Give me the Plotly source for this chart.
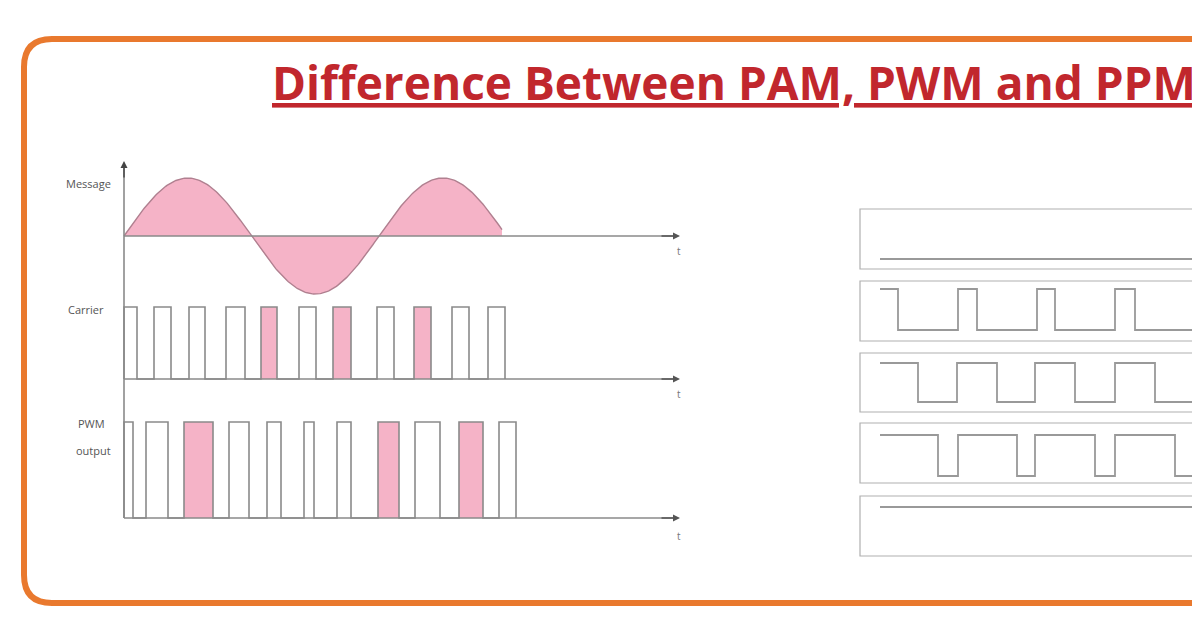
import numpy as np
import plotly.graph_objects as go

TITLE = "Difference Between PAM, PWM and PPM"
# left panel (schematic time units = pixels of drawing)
carrier_pulses = [(124,137),(154,171),(189,205),(226,245),(261,277),(299,316),(333,351),(377,394),(414,431),(452,469),(488,505)]
carrier_pink = [4, 6, 8]
pwm_pulses = [(124,133),(146,168),(184,213),(229,249),(267,281),(304,314),(337,351),(378,399),(415,440),(459,483),(499,516)]
pwm_pink = [2, 7, 9]
msg_start, msg_end, msg_period, msg_amp = 124, 502, 255, 58
# right panel (PPM-style square waves): high segments
box_rows = [(210,270),(282,342),(354,413),(424,484),(497,557)]
flat_levels = {0: 260, 4: 508}
wave_levels = {1: (290,331), 2: (364,403), 3: (436,477)}
wave_highs = {
    1: [(880,898),(958,977),(1037,1055),(1115,1135),(1193,1230)],
    2: [(880,918),(957,997),(1035,1075),(1115,1155),(1193,1230)],
    3: [(880,938),(958,1017),(1035,1095),(1115,1175),(1193,1230)],
}

GRAY = "#8a8a8a"; PINK = "#F5B3C7"
fig = go.Figure()

def line(x, y, w=1.6, c=GRAY):
    fig.add_trace(go.Scatter(x=x, y=y, mode="lines", line=dict(color=c, width=w), hoverinfo="skip"))

def pulses(pl, pink, top, base):
    for i, (a, b) in enumerate(pl):
        if i in pink:
            fig.add_trace(go.Scatter(x=[a,a,b,b,a], y=[base,top,top,base,base], fill="toself",
                                     fillcolor=PINK, mode="none", hoverinfo="skip"))
    xs, ys = [], []
    for a, b in pl:
        xs += [a, a, b, b]; ys += [base, top, top, base]
    line(xs, ys)

# message
t = np.linspace(msg_start, msg_end, 300)
s = 237 - msg_amp * np.sin(2*np.pi*(t - msg_start)/msg_period)
fig.add_trace(go.Scatter(x=np.r_[t, t[::-1]], y=np.r_[s, np.full_like(t, 237)], fill="toself",
                         fillcolor=PINK, mode="none", hoverinfo="skip"))
line(t, s, 1.4, "#b08090")
pulses(carrier_pulses, carrier_pink, 308, 380)
pulses(pwm_pulses, pwm_pink, 423, 519)
# axes
line([124,124],[519,166])
for yb, ty in [(237,252),(380,395),(519,537)]:
    line([124,678],[yb,yb])
    fig.add_annotation(x=680, y=yb, ax=660, ay=yb, xref="x", yref="y", axref="x", ayref="y",
                       showarrow=True, arrowhead=2, arrowsize=1, arrowwidth=1.4, arrowcolor="#555", text="")
    fig.add_annotation(x=679, y=ty, text="t", showarrow=False, font=dict(size=10, color="#777"))
fig.add_annotation(x=124, y=162, ax=124, ay=180, xref="x", yref="y", axref="x", ayref="y",
                   showarrow=True, arrowhead=2, arrowsize=1, arrowwidth=1.4, arrowcolor="#444", text="")
for txt, x, y in [("Message",88,184),("Carrier",86,310),("PWM",91,424),("output",93,451)]:
    fig.add_annotation(x=x, y=y, text=txt, showarrow=False, font=dict(size=11, color="#555", family="Open Sans"))

# right panel
for i, (y0, y1) in enumerate(box_rows):
    line([1230,860,860,1230],[y0,y0,y1,y1], 1.2, "#b0b0b0")
    if i in flat_levels:
        line([880,1230],[flat_levels[i]]*2, 2, "#999")
    else:
        hi, lo = wave_levels[i]
        xs, ys = [], []
        for a, b in wave_highs[i]:
            if xs: xs += [a]; ys += [lo]
            xs += [a, b]; ys += [hi, hi]
            xs += [b]; ys += [lo]
        line(xs, ys, 1.8, "#999")

# frame
r = 28; x0, y0, x1, y1 = 24, 40, 1240, 604
path = (f"M {x0+r},{y0} L {x1},{y0} L {x1},{y1} L {x0+r},{y1} Q {x0},{y1} {x0},{y1-r} "
        f"L {x0},{y0+r} Q {x0},{y0} {x0+r},{y0} Z")
fig.add_shape(type="path", path=path, xref="x", yref="y", line=dict(color="#E9792E", width=6))

fig.add_annotation(x=734, y=83, text=f"<b><u>{TITLE}</u></b>", showarrow=False,
                   font=dict(size=46, color="#C1272D", family="Open Sans"))

fig.update_layout(width=1200, height=628, margin=dict(l=0, r=0, t=0, b=0), showlegend=False,
                  plot_bgcolor="white", paper_bgcolor="white",
                  xaxis=dict(range=[8,1208], visible=False, fixedrange=True),
                  yaxis=dict(range=[637,9], visible=False, fixedrange=True))
fig.write_html("out.html")
